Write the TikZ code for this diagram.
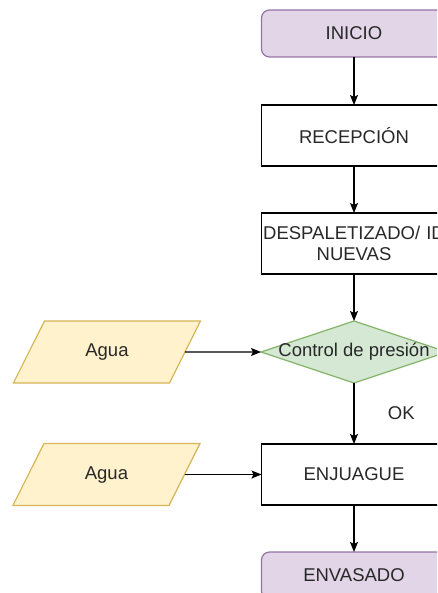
\documentclass[tikz,border=0pt]{standalone}
\usepackage{fontspec}
\setmainfont{Liberation Sans}
\usetikzlibrary{shapes.geometric,arrows.meta,positioning}
\definecolor{cLila}{HTML}{E1D5E7}
\definecolor{cLilaB}{HTML}{9673A6}
\definecolor{cVerde}{HTML}{D5E8D4}
\definecolor{cVerdeB}{HTML}{82B366}
\definecolor{cAmar}{HTML}{FFF2CC}
\definecolor{cAmarB}{HTML}{D6B656}
\definecolor{cTexto}{RGB}{40,40,40}
\tikzset{
  txt/.style={font=\fontsize{18.5}{21}\selectfont,text=cTexto},
  basebox/.style={rectangle,draw=black,line width=1.2pt,align=center,
                  txt,inner sep=0pt,outer sep=0pt,minimum width=185pt},
  termnode/.style={basebox,rounded corners=8pt,fill=cLila,draw=cLilaB,
                   minimum height=47pt},
  procnode/.style={basebox,fill=white,minimum height=61pt},
  decnode/.style={diamond,draw=cVerdeB,fill=cVerde,line width=1.2pt,
                  inner sep=0pt,outer sep=0pt,minimum width=186pt,minimum height=62pt},
  datanode/.style={trapezium,trapezium left angle=63.4,trapezium right angle=116.6,
                   draw=cAmarB,fill=cAmar,line width=1.2pt,outer sep=0pt,
                   text width=125pt,align=center,inner xsep=0pt,
                   text height=13pt,text depth=4pt,inner ysep=22.5pt,txt},
  arr/.style={-{Stealth[length=10pt,width=8pt,inset=2pt]},line width=1.2pt,color=black}
}
\begin{document}
\begin{tikzpicture}[x=1pt,y=-1pt]
  \useasboundingbox (0,0) rectangle (437,593);
  \clip (0,0) rectangle (437,593);
  \node[termnode] (inicio) at (354,33.5) {INICIO};
  \node[procnode, below=48pt of inicio] (recep) {RECEPCIÓN};
  \node[procnode, below=47pt of recep, text width=185pt] (desp)
    {DESPALETIZADO/ ID\\NUEVAS};
  \node[decnode, below=47pt of desp, label={[txt]center:Control de presión}] (ctrl) {};
  \node[procnode, below=61pt of ctrl] (enj) {ENJUAGUE};
  \node[termnode, below=47pt of enj] (envas) {ENVASADO};

  \node[datanode, left=76pt of ctrl] (agua1) {Agua};
  \node[datanode, left=77pt of enj] (agua2) {Agua};

  \draw[arr] (inicio) -- (recep);
  \draw[arr] (recep) -- (desp);
  \draw[arr] (desp) -- (ctrl);
  \draw[arr] (ctrl) -- node[txt,right=30pt] (ok) {OK} (enj);
  \draw[arr] (enj) -- (envas);
  \draw[arr] (agua1) -- (ctrl);
  \draw[arr] (agua2) -- (enj);
\end{tikzpicture}
\end{document}
